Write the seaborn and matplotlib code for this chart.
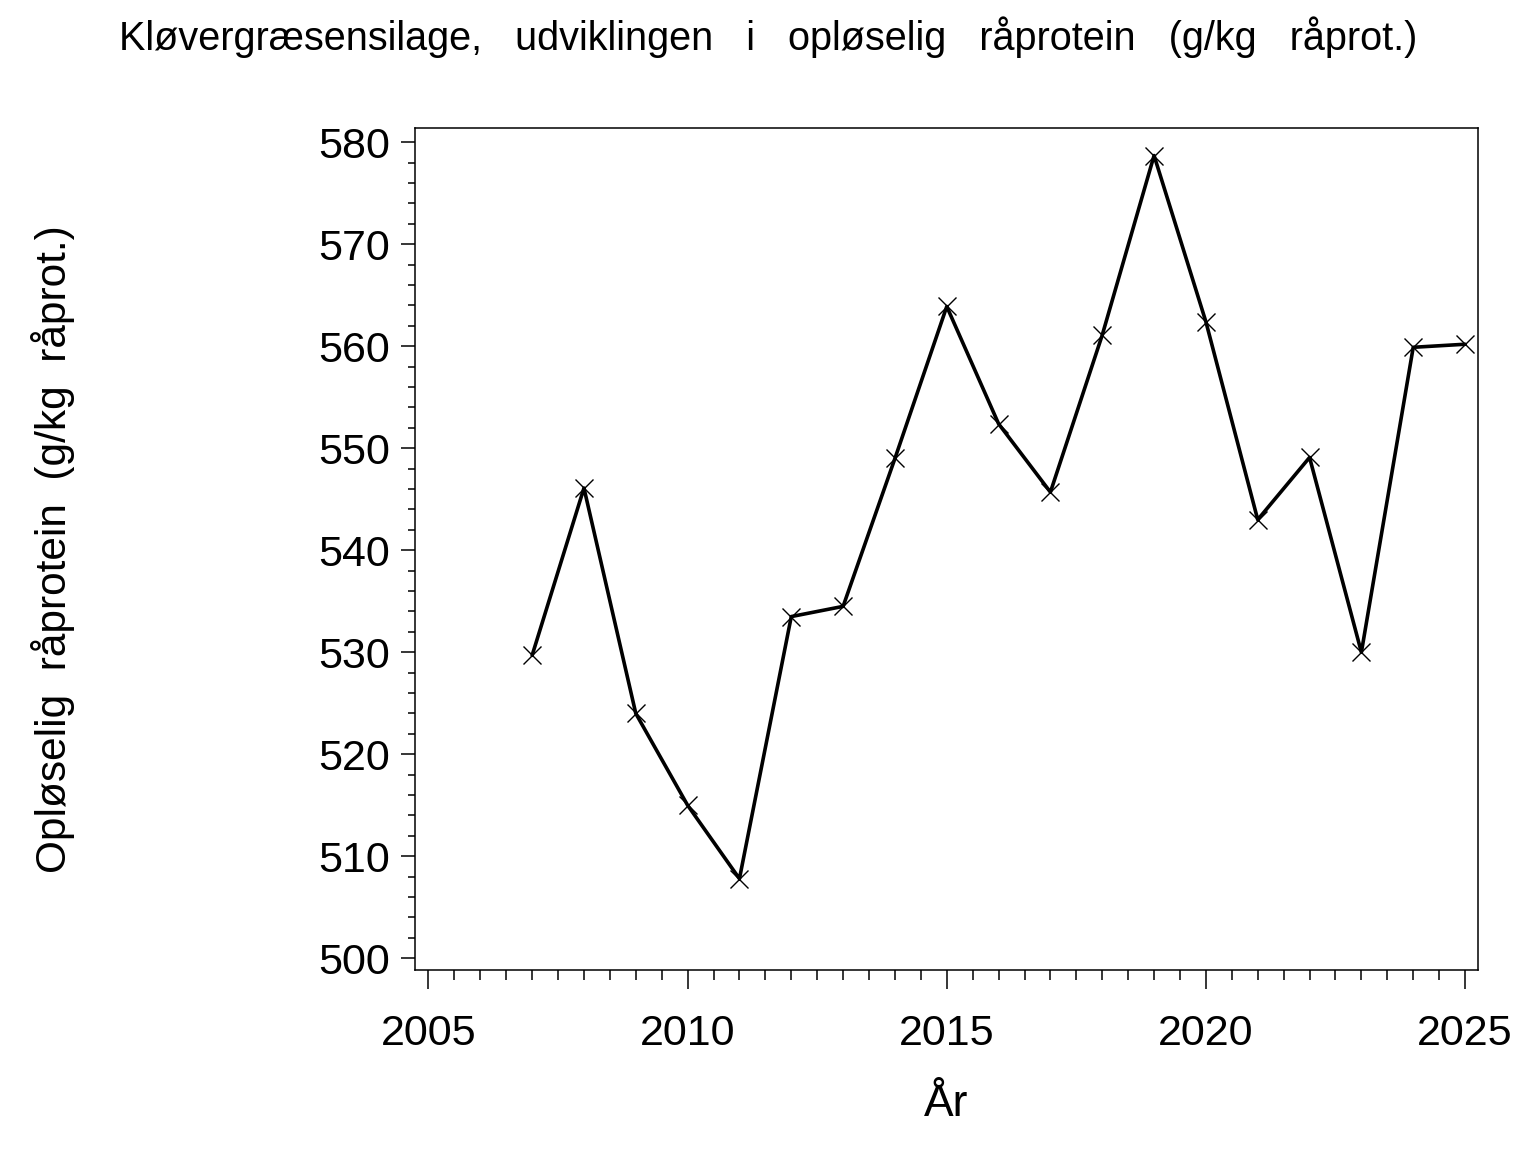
import matplotlib
matplotlib.use("Agg")
import matplotlib.pyplot as plt
from matplotlib.ticker import MultipleLocator
import pandas as pd
import seaborn as sns

sns.set_style("white")
plt.rcParams['font.family'] = ['Liberation Sans', 'DejaVu Sans']
plt.rcParams['text.color'] = 'black'
plt.rcParams['axes.labelcolor'] = 'black'
plt.rcParams['xtick.color'] = 'black'
plt.rcParams['ytick.color'] = 'black'

# Data
aar = [2007, 2008, 2009, 2010, 2011, 2012, 2013, 2014, 2015, 2016,
       2017, 2018, 2019, 2020, 2021, 2022, 2023, 2024, 2025]
opl_raaprotein = [529.7, 546.1, 524.0, 515.0, 507.8, 533.5, 534.5, 549.0, 563.9, 552.4,
                  545.7, 561.1, 578.7, 562.4, 543.0, 549.1, 530.0, 559.9, 560.2]

df = pd.DataFrame({'aar': aar, 'val': opl_raaprotein})

fig = plt.figure(figsize=(15.36, 11.52), dpi=100)
ax = fig.add_axes([415/1536, 1 - 970/1152, (1478-415)/1536, (970-128)/1152])

sns.lineplot(data=df, x='aar', y='val', ax=ax, color='black', linewidth=2.6,
             marker='x', markersize=13, markeredgewidth=1.0, markeredgecolor='black')

ax.set_xlim(2004.74, 2025.25)
ax.set_ylim(498.85, 581.4)
ax.xaxis.set_major_locator(MultipleLocator(5))
ax.xaxis.set_minor_locator(MultipleLocator(0.5))
ax.yaxis.set_major_locator(MultipleLocator(10))
ax.yaxis.set_minor_locator(MultipleLocator(2))

ax.tick_params(axis='both', which='both', direction='out', color='black', width=1.1,
               left=True, bottom=True)
ax.tick_params(axis='y', which='major', length=10, labelsize=31, pad=8)
ax.tick_params(axis='y', which='minor', length=5)
ax.tick_params(axis='x', which='major', length=14, labelsize=31, pad=18)
ax.tick_params(axis='x', which='minor', length=7)

for s in ax.spines.values():
    s.set_color('black')
    s.set_linewidth(1.1)

ax.set_xlabel('År', fontsize=32)
ax.set_ylabel('Opløselig  råprotein  (g/kg  råprot.)', fontsize=30.5)
ax.xaxis.set_label_coords(0.5, -0.135)
ax.yaxis.set_label_coords(-0.32, 0.5)

fig.suptitle('Kløvergræsensilage,   udviklingen   i   opløselig   råprotein   (g/kg   råprot.)',
             fontsize=28.5, y=1 - 16/1152, va='top')

fig.savefig('out.png', dpi=100)
